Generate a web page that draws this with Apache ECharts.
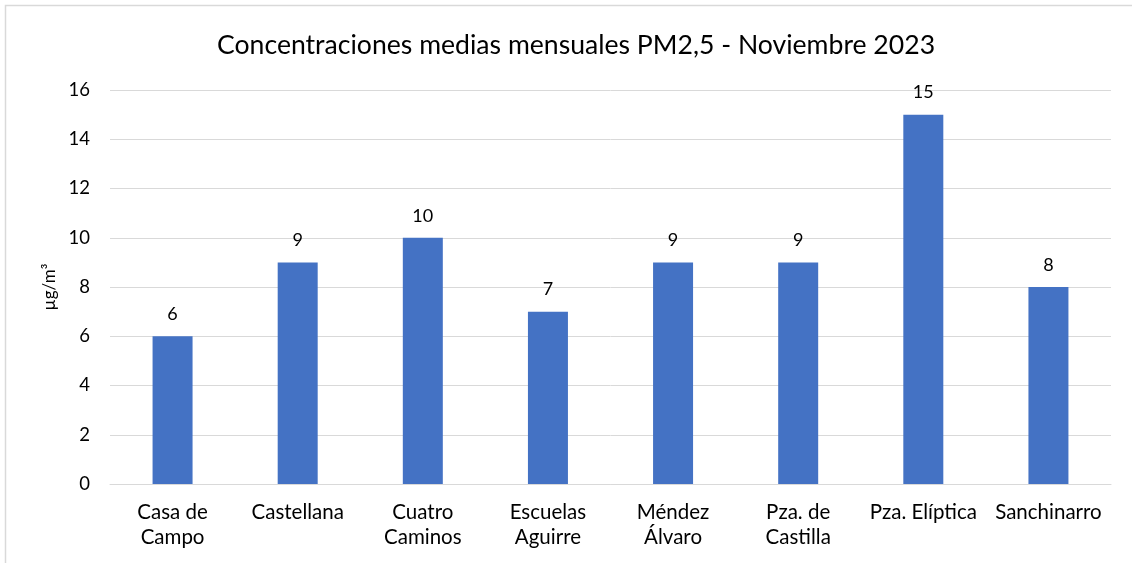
<!DOCTYPE html>
<html><head><meta charset="utf-8">
<script src="https://cdn.jsdelivr.net/npm/echarts@6/dist/echarts.min.js"></script>
<style>html,body{margin:0;padding:0;background:#fff}#c{width:1132px;height:563px}</style>
</head><body><div id="c"></div>
<script>
const categories = ['Casa de\nCampo','Castellana','Cuatro\nCaminos','Escuelas\nAguirre','Méndez\nÁlvaro','Pza. de\nCastilla','Pza. Elíptica','Sanchinarro'];
const values = [6, 9, 10, 7, 9, 9, 15, 8];
const titleText = 'Concentraciones medias mensuales PM2,5 - Noviembre 2023';
const yAxisName = 'µg/m³';

const chart = echarts.init(document.getElementById('c'), null, {renderer:'canvas'});
const F = 'Lato, "Open Sans", sans-serif';
chart.setOption({
  animation:false,
  graphic:[{type:'rect', shape:{x:5.5,y:5.5,width:1140,height:570}, style:{fill:null, stroke:'#d9d9d9', lineWidth:1.5}, silent:true}],
  title:{text:titleText, left:212, top:27, textStyle:{fontFamily:F, fontSize:26.6, fontWeight:'normal', color:'#000'}},
  grid:{left:110, right:21, top:90, bottom:79},
  xAxis:{type:'category', data:categories,
    axisLine:{lineStyle:{color:'#d9d9d9', width:1}}, axisTick:{show:false},
    axisLabel:{fontFamily:F, fontSize:20.5, color:'#000', margin:16, lineHeight:25, interval:0}},
  yAxis:{type:'value', min:0, max:16, interval:2,
    name:yAxisName, nameLocation:'middle', nameGap:44, nameRotate:90,
    nameTextStyle:{fontFamily:F, fontSize:17, color:'#000'},
    axisLine:{show:false}, axisTick:{show:false},
    axisLabel:{fontFamily:F, fontSize:18.5, color:'#000', margin:20},
    splitLine:{lineStyle:{color:'#d9d9d9', width:1}}},
  series:[{type:'bar', data:values, barWidth:40,
    itemStyle:{color:'#4472c4'},
    label:{show:true, position:'top', distance:13, fontFamily:F, fontSize:18, color:'#000'}}]
});
</script></body></html>
